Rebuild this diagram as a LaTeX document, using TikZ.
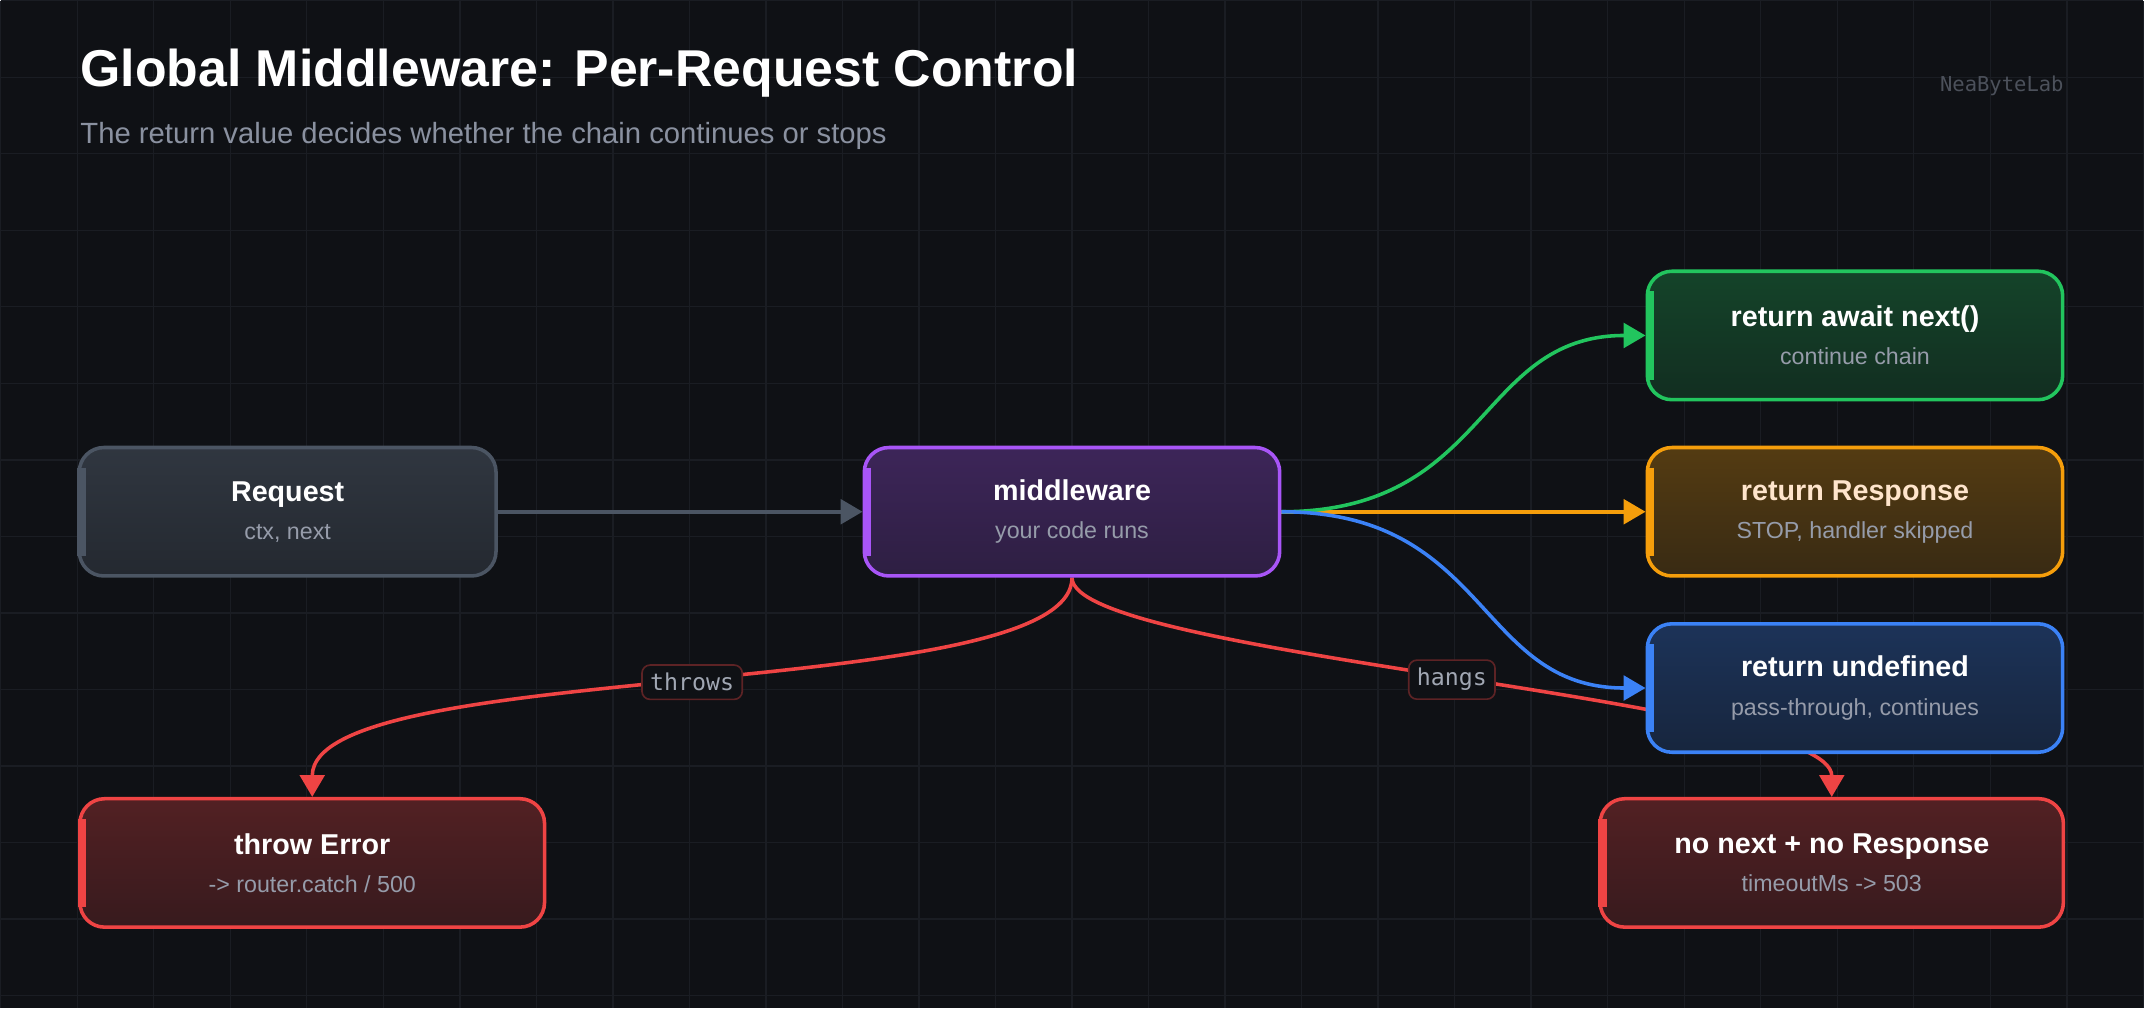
\documentclass[tikz,border=0pt]{standalone}
\usepackage{fontspec}
\setmainfont{Liberation Sans}
\newfontfamily\monof{DejaVu Sans Mono}
\usetikzlibrary{arrows.meta}
\pgfdeclarelayer{bgl}
\pgfdeclarelayer{edges}
\pgfsetlayers{bgl,edges,main}
\definecolor{bg}{HTML}{0F1115}
\definecolor{gridc}{HTML}{1A1D23}
\definecolor{subc}{HTML}{8A91A0}
\definecolor{grayb}{HTML}{4B5563}
\definecolor{purp}{HTML}{A855F7}
\definecolor{grn}{HTML}{22C55E}
\definecolor{org}{HTML}{F59E0B}
\definecolor{blu}{HTML}{3B82F6}
\definecolor{rd}{HTML}{EF4444}
\tikzset{
  box/.style={rounded corners=9pt, line width=1.3pt, minimum width=#1*0.5pt, minimum height=47pt, align=center, inner sep=0pt},
  conn/.style={line width=1.3pt, -{Triangle[length=8pt,width=9pt]}},
  lbl/.style={font=\monof\fontsize{8.5}{10}\selectfont, text=subc!80!white, fill=bg, draw=rd!35!bg, rounded corners=3pt, inner sep=3pt, line width=0.6pt}
}
\newcommand{\btxt}[3]{{\bfseries\fontsize{10.5}{13}\selectfont\color{#3}#1}\\[2pt]{\fontsize{8.5}{10}\selectfont\color{subc!90!white}#2}}
\begin{document}
\begin{tikzpicture}[x=0.5pt,y=-0.5pt]
\begin{pgfonlayer}{bgl}
\fill[bg] (0,0) rectangle (1568,737);
\foreach \i in {0,...,28} \draw[gridc,line width=0.5pt] (\i*56,0) -- (\i*56,737);
\foreach \j in {0,...,13} \draw[gridc,line width=0.5pt] (0,\j*56) -- (1568,\j*56);
\end{pgfonlayer}
\useasboundingbox (0,0) rectangle (1568,737);
\node[anchor=west,inner sep=0pt,text=white,font=\bfseries\fontsize{18.95}{22}\selectfont] (title) at (58,53) {Global Middleware: Per-Request Control};
\node[anchor=west,inner sep=0pt,text=subc,font=\fontsize{10.7}{12}\selectfont] (sub) at (58,99) {The return value decides whether the chain continues or stops};
\node[anchor=east,inner sep=0pt,text=subc!50!bg,font=\monof\fontsize{7.5}{9}\selectfont] (wm) at (1510,62) {NeaByteLab};
% boxes
\node[box=305, draw=grayb, top color=grayb!55!bg, bottom color=grayb!35!bg] (req) at (210,374) {\btxt{Request}{ctx, next}{white}};
\node[box=304, draw=purp, top color=purp!30!bg, bottom color=purp!20!bg] (mw) at (784,374) {\btxt{middleware}{your code runs}{white}};
\node[box=304, draw=grn, top color=grn!28!bg, bottom color=grn!16!bg] (ok) at (1357,245) {\btxt{return await next()}{continue chain}{white}};
\node[box=304, draw=org, top color=org!30!bg, bottom color=org!18!bg] (resp) at (1357,374) {\btxt{return Response}{STOP, handler skipped}{orange!20!white}};
\node[box=304, draw=blu, top color=blu!30!bg, bottom color=blu!18!bg] (und) at (1357,503) {\btxt{return undefined}{pass-through, continues}{white}};
\node[box=340, draw=rd, top color=rd!30!bg, bottom color=rd!18!bg] (err) at (228,631) {\btxt{throw Error}{-> router.catch / 500}{white}};
\node[box=339, draw=rd, top color=rd!30!bg, bottom color=rd!18!bg] (hang) at (1340,631) {\btxt{no next + no Response}{timeoutMs -> 503}{white}};
% accent bars
\foreach \n/\c in {req/grayb,mw/purp,ok/grn,resp/org,und/blu,err/rd,hang/rd}
  \draw[\c,line width=3pt] ([xshift=1.5pt,yshift=-8pt]\n.north west) -- ([xshift=1.5pt,yshift=8pt]\n.south west);
% connectors
\begin{pgfonlayer}{edges}
\draw[conn,grayb] (req.east) -- (mw.west);
\draw[conn,org] (mw.east) -- (resp.west);
\draw[conn,grn] (mw.east) .. controls (1090,374) and (1080,245) .. (ok.west);
\draw[conn,blu] (mw.east) .. controls (1090,374) and (1080,503) .. (und.west);
\draw[conn,rd] (mw.south) .. controls (784,515) and (228,480) .. (err.north) node[lbl,pos=0.5] (lt) {throws};
\draw[conn,rd] (mw.south) .. controls (784,480) and (1340,510) .. (hang.north) node[lbl,pos=0.5] (lh) {hangs};
\end{pgfonlayer}
\end{tikzpicture}
\end{document}
